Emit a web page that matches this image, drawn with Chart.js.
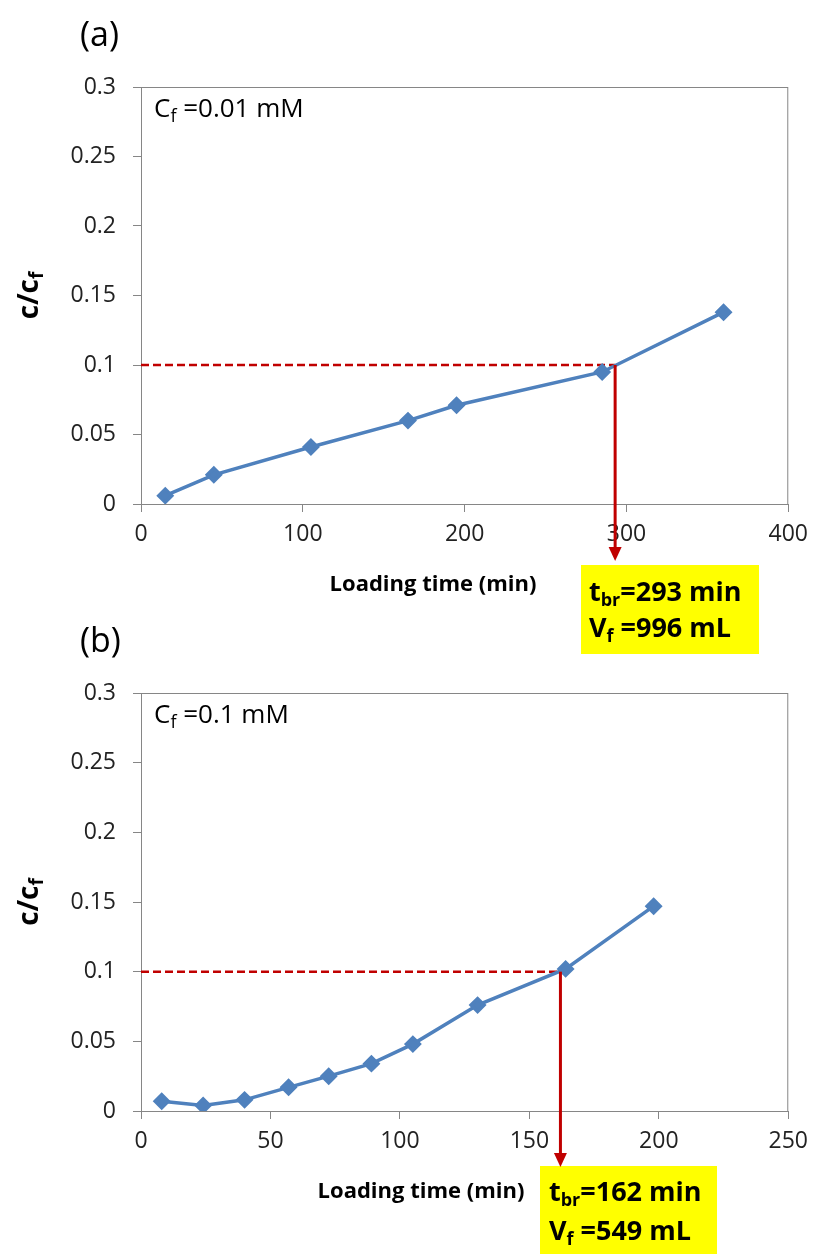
<!DOCTYPE html>
<html><head><meta charset="utf-8">
<script src="https://cdn.jsdelivr.net/npm/chart.js@4.4.0/dist/chart.umd.min.js"></script>
<style>
html,body{margin:0;padding:0;background:#fff;}
#wrap{position:relative;width:817px;height:1254px;}
canvas{position:absolute;left:0;top:0;}
</style></head><body>
<div id="wrap"><canvas id="ca" width="817" height="1254"></canvas><canvas id="cb" width="817" height="1254"></canvas></div>
<script>
// ---- data ----
const timeA = [15, 45, 105, 165, 195, 285, 360];
const ratioA = [0.006, 0.021, 0.041, 0.060, 0.071, 0.095, 0.138];
const timeB = [8, 24, 40, 57, 72.5, 89, 105, 130, 164, 198];
const ratioB = [0.007, 0.004, 0.008, 0.017, 0.025, 0.034, 0.048, 0.076, 0.102, 0.147];
const yTickValues = [0, 0.05, 0.1, 0.15, 0.2, 0.25, 0.3];
const xTicksA = [0, 100, 200, 300, 400];
const xTicksB = [0, 50, 100, 150, 200, 250];
const breakTimeA = 293, breakTimeB = 162;
const breakRatio = 0.1;
const labelA = ["(a)", "0.01 mM", "293 min", "996 mL"];
const labelB = ["(b)", "0.1 mM", "162 min", "549 mL"];

const FONT = "'Open Sans', 'Liberation Sans', sans-serif";
const RED = '#c00000';
const AXIS = '#868686';

function drawRich(ctx, parts, x, y, size, bold) {
  let cx = x;
  ctx.textBaseline = 'middle';
  ctx.textAlign = 'left';
  for (const p of parts) {
    const sub = p[1];
    const fs = sub ? Math.round(size * 0.68) : size;
    ctx.font = (bold ? 'bold ' : '') + fs + 'px ' + FONT;
    ctx.fillText(p[0], cx, sub ? y + size * 0.28 : y);
    cx += ctx.measureText(p[0]).width;
  }
  return cx - x;
}
function richWidth(ctx, parts, size, bold) {
  let w = 0;
  for (const p of parts) {
    const fs = p[1] ? Math.round(size * 0.68) : size;
    ctx.font = (bold ? 'bold ' : '') + fs + 'px ' + FONT;
    w += ctx.measureText(p[0]).width;
  }
  return w;
}

function makeChart(id, xs, ys, xTicks, xMax, topPad, bottomY, cfg) {
  const annot = {
    id: 'annot' + id,
    beforeDatasetsDraw(chart) {
      const {ctx, chartArea: a, scales: {x, y}} = chart;
      ctx.save();
      ctx.strokeStyle = AXIS; ctx.lineWidth = 1;
      ctx.strokeRect(a.left + 0.5, a.top + 0.5, a.right - a.left - 1, a.bottom - a.top);
      const bx = x.getPixelForValue(cfg.breakT), by = y.getPixelForValue(breakRatio);
      ctx.strokeStyle = RED; ctx.lineWidth = 2.5; ctx.setLineDash([8, 4]);
      ctx.beginPath(); ctx.moveTo(a.left, by); ctx.lineTo(bx, by); ctx.stroke();
      ctx.setLineDash([]);
      ctx.restore();
    },
    afterDraw(chart) {
      const {ctx, chartArea: a, scales: {x, y}} = chart;
      ctx.save();
      const bx = x.getPixelForValue(cfg.breakT), by = y.getPixelForValue(breakRatio);
      ctx.fillStyle = '#ffff00';
      ctx.fillRect(cfg.box[0], cfg.box[1], cfg.box[2], cfg.box[3]);
      ctx.strokeStyle = RED; ctx.fillStyle = RED; ctx.lineWidth = 3;
      ctx.beginPath(); ctx.moveTo(bx, by); ctx.lineTo(bx, cfg.tipY - 12); ctx.stroke();
      ctx.beginPath(); ctx.moveTo(bx - 6.5, cfg.tipY - 14); ctx.lineTo(bx + 6.5, cfg.tipY - 14); ctx.lineTo(bx, cfg.tipY); ctx.closePath(); ctx.fill();
      ctx.fillStyle = '#000';
      ctx.font = '34px ' + FONT; ctx.textBaseline = 'middle'; ctx.textAlign = 'left';
      ctx.fillText(cfg.lab[0], 80, a.top - 51);
      drawRich(ctx, [['C'], ['f', 1], [' =' + cfg.lab[1]]], 154, a.top + 23, 26, false);
      drawRich(ctx, [['t'], ['br', 1], ['=' + cfg.lab[2]]], cfg.tx, cfg.ty1, 27, true);
      drawRich(ctx, [['V'], ['f', 1], [' =' + cfg.lab[3]]], cfg.tx, cfg.ty2, 27, true);
      ctx.font = 'bold 22px ' + FONT; ctx.textAlign = 'center';
      ctx.fillText('Loading time (min)', cfg.xtX, cfg.xtY);
      const cy = (a.top + a.bottom) / 2;
      ctx.translate(30, cy); ctx.rotate(-Math.PI / 2);
      const parts = [['c/c'], ['f', 1]];
      const w = richWidth(ctx, parts, 28, true);
      drawRich(ctx, parts, -w / 2, 0, 28, true);
      ctx.restore();
    }
  };
  return new Chart(document.getElementById(id), {
    type: 'scatter',
    data: { datasets: [{
      data: xs.map((v, i) => ({x: v, y: ys[i]})),
      showLine: true,
      borderColor: '#4f81bd', backgroundColor: '#4f81bd',
      borderWidth: 3.5, pointStyle: 'rectRot', pointRadius: 6.5, pointHoverRadius: 6.5
    }]},
    options: {
      responsive: false, animation: false, devicePixelRatio: 1,
      layout: { padding: { top: topPad, right: 25, left: 0, bottom: 0 } },
      plugins: { legend: { display: false }, tooltip: { enabled: false } },
      scales: {
        x: {
          type: 'linear', min: 0, max: xMax,
          afterBuildTicks: s => { s.ticks = xTicks.map(v => ({value: v})); },
          afterFit: s => { s.height = 1254 - bottomY; },
          grid: { drawOnChartArea: false, drawTicks: true, tickLength: 8, color: AXIS },
          border: { color: AXIS },
          ticks: { color: '#222', font: { family: FONT, size: 23 }, padding: 9, maxRotation: 0 }
        },
        y: {
          type: 'linear', min: 0, max: 0.3,
          afterBuildTicks: s => { s.ticks = yTickValues.map(v => ({value: v})); },
          afterFit: s => { s.width = 141; },
          grid: { drawOnChartArea: false, drawTicks: true, tickLength: 8, color: AXIS },
          border: { color: AXIS },
          ticks: { color: '#222', font: { family: FONT, size: 23 }, padding: 17,
                   callback: v => String(+v.toFixed(2)) }
        }
      }
    },
    plugins: [annot]
  });
}

makeChart('ca', timeA, ratioA, xTicksA, 400, 87, 504, {
  breakT: breakTimeA, lab: labelA, box: [581, 565, 178, 89], tipY: 561,
  tx: 589, ty1: 593, ty2: 629, xtX: 433, xtY: 585
});
makeChart('cb', timeB, ratioB, xTicksB, 250, 693, 1111, {
  breakT: breakTimeB, lab: labelB, box: [540, 1166, 177, 88], tipY: 1167,
  tx: 549, ty1: 1193, ty2: 1232, xtX: 421, xtY: 1192
});
</script>
</body></html>
